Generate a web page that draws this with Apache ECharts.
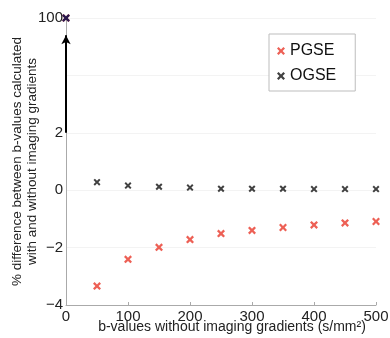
<!DOCTYPE html>
<html>
<head>
<meta charset="utf-8">
<script src="https://cdn.jsdelivr.net/npm/echarts@6/dist/echarts.min.js"></script>
<style>
  html, body { margin: 0; padding: 0; background: #fff; }
  #chart { width: 390px; height: 338px; }
</style>
</head>
<body>
<div id="chart"></div>
<script>
// b-values (s/mm^2)
const bValues = [0, 50, 100, 150, 200, 250, 300, 350, 400, 450, 500];
// % difference, PGSE and OGSE
const pgse = [100, -3.34, -2.41, -1.99, -1.72, -1.51, -1.40, -1.30, -1.21, -1.14, -1.09];
const ogse = [100, 0.28, 0.16, 0.12, 0.09, 0.05, 0.05, 0.05, 0.04, 0.04, 0.04];
// y tick labels (broken axis: 100 drawn where 6 would be)
const yTicks = { '-4': '\u22124', '-2': '\u22122', '0': '0', '2': '2', '4': '', '6': '100' };
const xTicks = [0, 100, 200, 300, 400, 500];

// the axis break: everything above 2 is squeezed so that 100 sits at the top
const breakVal = 2, topVal = 100, topPos = 6;
function toAxis(v) {
    if (v <= breakVal) return v;
    return breakVal + (v - breakVal) / (topVal - breakVal) * (topPos - breakVal);
}

// thick "x" marker
const crossPath = 'path://M0,2L2,0L5,3L8,0L10,2L7,5L10,8L8,10L5,7L2,10L0,8L3,5Z';
const font = 'Liberation Sans, Arial, sans-serif';

const chart = echarts.init(document.getElementById('chart'));

const option = {
    animation: false,
    grid: { left: 66, right: 14, top: 18, bottom: 33, outerBoundsMode: 'none', containLabel: false },
    legend: {
        orient: 'vertical',
        left: 269,
        top: 34,
        padding: [9, 19, 7, 8],
        itemGap: 9,
        itemWidth: 8,
        itemHeight: 8,
        borderColor: '#bdbdbd',
        borderWidth: 1,
        backgroundColor: '#fff',
        textStyle: { fontFamily: font, fontSize: 16, color: '#111' },
        data: [
            { name: 'PGSE', icon: crossPath },
            { name: 'OGSE', icon: crossPath }
        ]
    },
    xAxis: {
        type: 'value',
        min: 0,
        max: 500,
        interval: 100,
        name: 'b-values without imaging gradients (s/mm\u00b2)',
        nameLocation: 'middle',
        nameGap: 15,
        nameMoveOverlap: false,
        nameTextStyle: { fontFamily: font, fontSize: 14, color: '#222', padding: [0, 0, 0, 22] },
        axisLine: { onZero: false, lineStyle: { color: '#aaa' } },
        axisTick: { inside: true, length: 3, lineStyle: { color: '#aaa' } },
        axisLabel: {
            fontFamily: font, fontSize: 15, color: '#222', margin: 4,
            formatter: v => xTicks.includes(v) ? String(v) : ''
        },
        splitLine: { show: false }
    },
    yAxis: {
        type: 'value',
        min: -4,
        max: topPos,
        interval: 2,
        name: '% difference between b-values calculated\nwith and without imaging gradients',
        nameLocation: 'middle',
        nameRotate: 90,
        nameGap: 26,
        nameMoveOverlap: false,
        nameTextStyle: { fontFamily: font, fontSize: 13.5, color: '#222', lineHeight: 15 },
        axisLine: { show: true, onZero: false, lineStyle: { color: '#aaa' } },
        axisTick: { show: false },
        axisLabel: {
            fontFamily: font, fontSize: 15, color: '#222', margin: 3,
            formatter: v => yTicks[String(v)]
        },
        splitLine: { show: true, lineStyle: { color: '#f3f3f3' } }
    },
    series: [
        {
            name: 'PGSE',
            type: 'scatter',
            symbol: crossPath,
            symbolSize: 8,
            itemStyle: { color: '#e8382b' },
            data: bValues.map((b, i) => [b, toAxis(pgse[i])]),
            markLine: {
                silent: true,
                symbol: ['none', 'arrow'],
                symbolSize: [7, 9],
                label: { show: false },
                lineStyle: { color: '#000', width: 2, type: 'solid' },
                data: [[{ coord: [0, breakVal] }, { coord: [0, 5.4] }]]
            }
        },
        {
            name: 'OGSE',
            type: 'scatter',
            symbol: crossPath,
            symbolSize: 7,
            itemStyle: { color: '#111' },
            data: bValues.map((b, i) => [b, toAxis(ogse[i])])
        },
        {
            // overlapping markers at b = 0 look dark navy in the original
            name: 'overlap',
            type: 'scatter',
            symbol: crossPath,
            symbolSize: 8,
            itemStyle: { color: '#23165a' },
            data: [[bValues[0], toAxis(pgse[0])]]
        }
    ]
};

chart.setOption(option);
</script>
</body>
</html>
